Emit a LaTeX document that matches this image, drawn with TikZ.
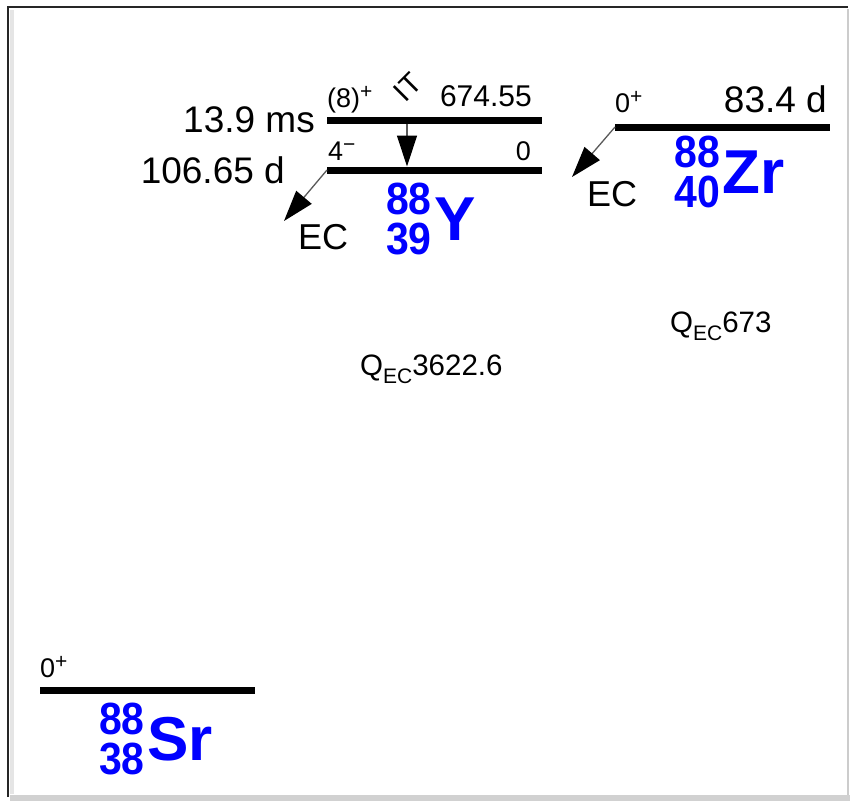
\documentclass[tikz,border=0pt]{standalone}
\usepackage{fontspec}
\setmainfont{Liberation Sans}
\usetikzlibrary{arrows.meta, positioning}

\newcommand{\sps}[1]{\raisebox{0.32em}{\fontsize{21}{21}\selectfont #1}}
\newcommand{\sbs}[1]{\raisebox{-0.3em}{\fontsize{21}{21}\selectfont #1}}
\newcommand{\tallnum}[1]{\scalebox{1}[1.1]{#1}}

\begin{document}
\begin{tikzpicture}[
			x=1pt, y=-1pt,
			level/.style={line width=7pt},
			decay/.style={-{Triangle[length=31pt, width=20pt, color=black]}, line width=1.3pt, black!65},
			life/.style={inner sep=0pt, font=\fontsize{37}{37}\selectfont},
			spin/.style={inner sep=0pt, font=\fontsize{27}{27}\selectfont},
			energy/.style={inner sep=0pt, font=\fontsize{30}{30}\selectfont},
			mode/.style={inner sep=0pt, font=\fontsize{36}{36}\selectfont},
			qval/.style={inner sep=0pt, font=\fontsize{29.5}{29.5}\selectfont},
			elem/.style={inner sep=0pt, text=blue, font=\fontsize{62}{62}\selectfont\bfseries},
			nucnum/.style={inner xsep=2pt, inner ysep=3.5pt, text=blue, font=\fontsize{41}{41}\selectfont\bfseries}
			]
			\useasboundingbox (0,0) rectangle (850,801);
			% frame
			\fill[black!18] (10,795) rectangle (850,801);
			\draw[line width=2pt, black!20] (848,9) -- (848,795);
			\draw[line width=4pt, black!10] (12,10) -- (12,794);
			\draw[line width=2.5pt, black!85] (8,797) -- (8,7) -- (848,7);
			% levels
			\coordinate (YmW) at (327,120); \coordinate (YmE) at (542,120);
			\coordinate (YgW) at (327,170); \coordinate (YgE) at (542,170);
			\coordinate (ZrW) at (615,127); \coordinate (ZrE) at (830,127);
			\coordinate (SrW) at (40,690); \coordinate (SrE) at (255,690);
			\draw[level] (YmW) -- (YmE);
			\draw[level] (YgW) -- (YgE);
			\draw[level] (ZrW) -- (ZrE);
			\draw[level] (SrW) -- (SrE);
			% decays
			\coordinate (ITa) at (407,123.5); \coordinate (ITb) at (407,166.5);
			\coordinate (ECy) at (284,221);
			\coordinate (ECz) at (572,177);
			\draw[decay] (ITa) -- (ITb);
			\draw[decay] (YgW) -- (ECy);
			\draw[decay] (ZrW) -- (ECz);
			\node[spin, font=\fontsize{29}{29}\selectfont, rotate=45] (IT) at (408,87) {IT};
			\node[mode, anchor=north west] (ecY) at ([shift={(14,3)}]ECy) {EC};
			\node[mode, anchor=north west] (ecZr) at ([shift={(15,4)}]ECz) {EC};
			% level labels
			\node[life, left=12pt of YmW] (tYm) {13.9 ms};
			\node[life, left=42pt of YgW] (tYg) {106.65 d};
			\node[spin, anchor=base west] (jYm) at ([shift={(0,-13)}]YmW) {(8)\sps{+}};
			\node[energy, anchor=base east] (eYm) at ([shift={(-10,-14)}]YmE) {674.55};
			\node[spin, anchor=base west] (jYg) at ([shift={(1,-10)}]YgW) {4\sps{−}};
			\node[spin, anchor=base east] (eYg) at ([shift={(-11,-10)}]YgE) {0};
			\node[spin, anchor=base west] (jZr) at ([shift={(0,-15)}]ZrW) {0\sps{+}};
			\node[life, anchor=base east] (tZr) at ([shift={(-3,-15)}]ZrE) {83.4 d};
			\node[spin, anchor=base west] (jSr) at ([shift={(0,-13)}]SrW) {0\sps{+}};
			% nuclides
			\node[elem, anchor=west] (nucY) at (434,219) {Y};
			\node[nucnum, anchor=south east] (aY) at (nucY.west) {\tallnum{88}};
			\node[nucnum, anchor=north east] (zY) at (nucY.west) {\tallnum{39}};
			\node[elem, anchor=west] (nucZr) at (722,172) {Zr};
			\node[nucnum, anchor=south east] (aZr) at (nucZr.west) {\tallnum{88}};
			\node[nucnum, anchor=north east] (zZr) at (nucZr.west) {\tallnum{40}};
			\node[elem, anchor=west] (nucSr) at (147,739) {Sr};
			\node[nucnum, anchor=south east] (aSr) at (nucSr.west) {\tallnum{88}};
			\node[nucnum, anchor=north east] (zSr) at (nucSr.west) {\tallnum{38}};
			% Q values
			\node[qval, anchor=base west] (qY) at (360,375) {Q\sbs{EC}3622.6};
			\node[qval, anchor=base west] (qZr) at (670,332) {Q\sbs{EC}673};
		\end{tikzpicture}
\end{document}
